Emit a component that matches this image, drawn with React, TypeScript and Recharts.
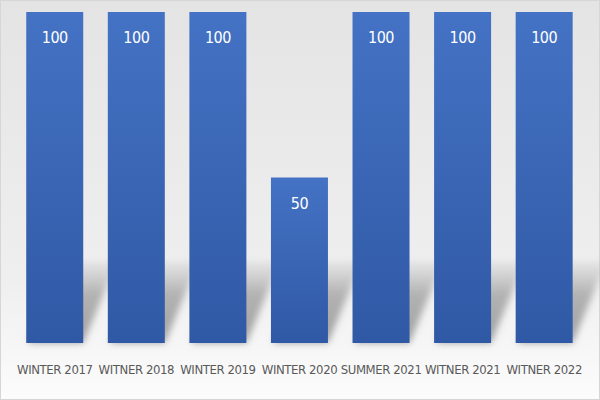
import React from 'react';
import { BarChart, Bar, XAxis, YAxis, LabelList } from 'recharts';

const terms = ['WINTER 2017', 'WITNER 2018', 'WINTER 2019', 'WINTER 2020', 'SUMMER 2021', 'WITNER 2021', 'WITNER 2022'];
const scores = [100, 100, 100, 50, 100, 100, 100];

const data = terms.map((term, i) => ({ term, score: scores[i] }));

const FONT = '"DejaVu Sans", sans-serif';

// bar with a slanted soft shadow cast up and to the right
const ShadowBar = (props: any) => {
  const { x, y, width, height } = props;
  const bottom = y + height;
  const sh = Math.min(82, height);
  const shadow = `${x + 2},${bottom} ${x + width},${bottom} ${x + width + 34},${bottom - sh} ${x + 36},${bottom - sh}`;
  return (
    <g>
      <polygon points={shadow} fill="url(#shadowFade)" filter="url(#blurShadow)" />
      <rect x={x} y={y} width={width} height={height} fill="url(#barFill)" />
    </g>
  );
};

export default function App() {
  return (
    <div style={{ position: 'fixed', top: 0, left: 0, width: 600, height: 400 }}>
      <svg width={600} height={400} style={{ position: 'absolute', top: 0, left: 0 }}>
        <defs>
          <linearGradient id="bgFill" x1="0" y1="0" x2="0" y2="1">
            <stop offset="0%" stopColor="#e4e4e4" />
            <stop offset="70%" stopColor="#efefef" />
            <stop offset="100%" stopColor="#fcfcfc" />
          </linearGradient>
        </defs>
        <rect x={0.5} y={0.5} width={599} height={399} fill="url(#bgFill)" stroke="#d6d6d6" />
      </svg>
      <BarChart
        width={600}
        height={400}
        data={data}
        margin={{ top: 12, right: 15, bottom: 0, left: 14 }}
        barCategoryGap="15%"
        style={{ position: 'absolute', top: 0, left: 0 }}
      >
        <defs>
          <linearGradient id="barFill" x1="0" y1="0" x2="0" y2="1">
            <stop offset="0%" stopColor="#4472c4" />
            <stop offset="100%" stopColor="#3059a5" />
          </linearGradient>
          <linearGradient id="shadowFade" x1="0" y1="1" x2="0" y2="0">
            <stop offset="0%" stopColor="#8a8a8a" stopOpacity={0.8} />
            <stop offset="60%" stopColor="#8a8a8a" stopOpacity={0.6} />
            <stop offset="100%" stopColor="#9a9a9a" stopOpacity={0.1} />
          </linearGradient>
          <filter id="blurShadow" x="-50%" y="-50%" width="200%" height="200%">
            <feGaussianBlur stdDeviation="3.5" />
          </filter>
        </defs>
        <YAxis hide domain={[0, 100]} />
        <XAxis
          dataKey="term"
          height={57}
          axisLine={false}
          tickLine={false}
          tickSize={0}
          tickMargin={22}
          interval={0}
          tick={{ fill: '#595959', fontSize: 13, fontFamily: FONT, style: { fontStretch: 'condensed', letterSpacing: -0.4 } }}
        />
        <Bar dataKey="score" shape={<ShadowBar />} isAnimationActive={false}>
          <LabelList
            dataKey="score"
            position="insideTop"
            offset={20}
            fill="#ffffff"
            fontSize={16}
            fontFamily={FONT}
            style={{ fontStretch: 'condensed', letterSpacing: -0.5 }}
          />
        </Bar>
      </BarChart>
    </div>
  );
}
